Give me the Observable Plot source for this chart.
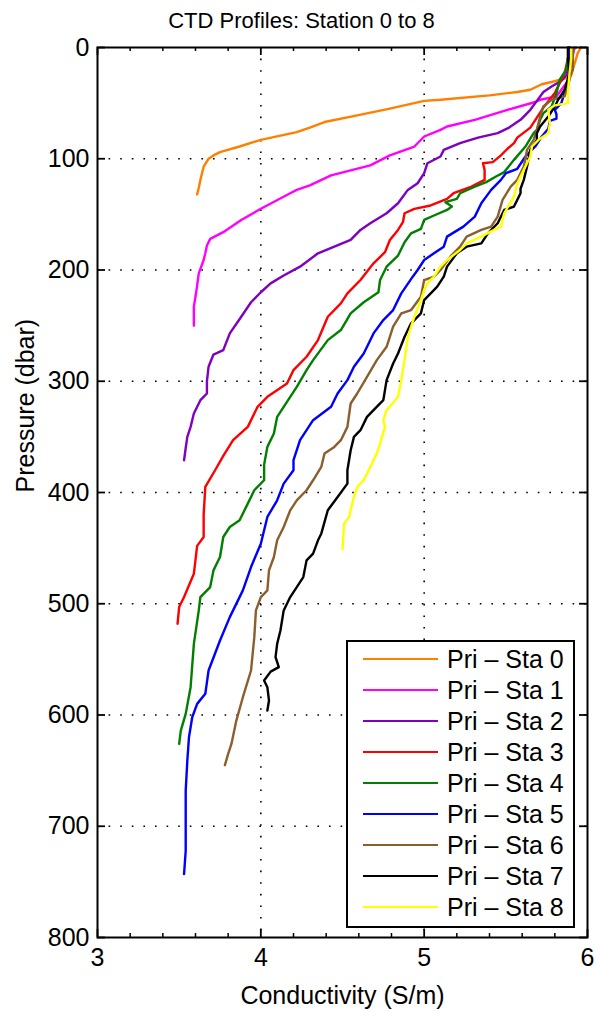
<!DOCTYPE html>
<html>
<head>
<meta charset="utf-8">
<script src="https://cdn.jsdelivr.net/npm/d3@7"></script>
<script src="https://cdn.jsdelivr.net/npm/@observablehq/plot@0.6"></script>
<style>
html, body { margin: 0; padding: 0; background: #fff; }
#wrap { position: relative; width: 595px; height: 1012px; font-family: "Liberation Sans", Arial, sans-serif; }
#legend { position: absolute; left: 0; top: 0; pointer-events: none; }
</style>
</head>
<body>
<div id="wrap"></div>
<script>
// ---------- data ----------
const title = "CTD Profiles: Station 0 to 8";
const xLabel = "Conductivity (S/m)";
const yLabel = "Pressure (dbar)";
const stations = ["Pri – Sta 0","Pri – Sta 1","Pri – Sta 2","Pri – Sta 3","Pri – Sta 4","Pri – Sta 5","Pri – Sta 6","Pri – Sta 7","Pri – Sta 8"];
const colors = ["#FF7F00","#FF00FF","#7F00BF","#FF0000","#007F00","#0000FF","#8B5E2E","#000000","#FFFF00"];
const xTicks = [3, 4, 5, 6];
const xMinorTicks = [3.2,3.4,3.6,3.8,4.2,4.4,4.6,4.8,5.2,5.4,5.6,5.8];
const yTicks = [0,100,200,300,400,500,600,700,800];
const xGrid = [4, 5];
const yGrid = [100,200,300,400,500,600,700];

// [pressure (dbar), conductivity (S/m)]
const sta0 = [[0,5.96],[5,5.94],[15,5.92],[25,5.90],[28,5.86],[31,5.78],[33,5.72],[38,5.65],[40,5.57],[43,5.40],[47,5.10],[48,5.0],[55,4.79],[61,4.59],[67,4.39],[72,4.30],[76,4.22],[83,4.0],[89,3.87],[94,3.75],[97,3.71],[100,3.68],[107,3.65],[113,3.64],[119,3.63],[126,3.62],[132,3.61]];
const sta1 = [[0,5.92],[15,5.90],[30,5.88],[38,5.84],[44,5.81],[47,5.71],[49,5.68],[56,5.51],[65,5.31],[71,5.14],[74,5.10],[80,5.0],[89,4.94],[97,4.79],[106,4.67],[115,4.43],[124,4.30],[128,4.22],[131,4.18],[145,4.0],[155,3.88],[166,3.77],[172,3.69],[178,3.67],[185,3.66],[191,3.65],[203,3.62],[214,3.61],[224,3.60],[233,3.59],[250,3.59]];
const sta2 = [[0,5.90],[15,5.89],[25,5.87],[30,5.84],[35,5.78],[40,5.73],[48,5.69],[56,5.65],[65,5.59],[72,5.52],[77,5.45],[81,5.33],[86,5.22],[92,5.12],[98,5.10],[104,5.02],[113,5.0],[122,4.96],[128,4.90],[140,4.84],[149,4.77],[158,4.67],[164,4.61],[173,4.55],[179,4.45],[185,4.35],[197,4.24],[205,4.14],[212,4.06],[220,4.0],[229,3.94],[242,3.88],[257,3.81],[272,3.77],[276,3.71],[287,3.68],[300,3.67],[311,3.67],[317,3.63],[329,3.59],[341,3.57],[350,3.55],[360,3.54],[371,3.53]];
const sta3 = [[0,5.89],[10,5.88],[23,5.86],[32,5.83],[41,5.80],[54,5.73],[63,5.69],[72,5.65],[81,5.57],[86,5.55],[91,5.51],[97,5.47],[103,5.42],[104,5.36],[110,5.37],[119,5.37],[125,5.29],[131,5.18],[136,5.14],[142,5.04],[145,4.94],[149,4.88],[157,4.87],[164,4.84],[173,4.79],[184,4.76],[194,4.69],[209,4.61],[221,4.53],[230,4.49],[242,4.41],[263,4.35],[278,4.28],[290,4.20],[302,4.16],[314,4.04],[323,3.98],[341,3.92],[353,3.83],[367,3.77],[380,3.72],[395,3.66],[420,3.65],[440,3.65],[448,3.61],[473,3.59],[494,3.53],[503,3.50],[518,3.49]];
const sta4 = [[0,5.89],[10,5.88],[20,5.87],[29,5.83],[41,5.81],[53,5.78],[59,5.73],[65,5.71],[74,5.69],[77,5.67],[89,5.62],[101,5.55],[112,5.49],[116,5.44],[121,5.38],[125,5.31],[131,5.22],[136,5.20],[139,5.13],[143,5.17],[146,5.14],[151,5.06],[155,5.0],[163,4.98],[167,4.92],[175,4.88],[187,4.84],[197,4.77],[209,4.73],[220,4.72],[229,4.63],[239,4.55],[254,4.49],[263,4.41],[281,4.32],[290,4.28],[305,4.22],[323,4.14],[332,4.10],[347,4.08],[359,4.04],[375,4.02],[389,4.02],[398,3.96],[410,3.92],[425,3.87],[431,3.81],[440,3.77],[458,3.75],[470,3.71],[485,3.69],[494,3.63],[506,3.62],[536,3.59],[575,3.57],[599,3.54],[614,3.51],[626,3.50]];
const sta5 = [[0,5.89],[10,5.89],[20,5.89],[32,5.88],[45,5.85],[50,5.84],[56,5.80],[60,5.81],[64,5.81],[66,5.77],[73,5.76],[80,5.72],[89,5.68],[98,5.62],[109,5.57],[113,5.50],[119,5.47],[128,5.41],[140,5.35],[152,5.31],[161,5.24],[170,5.14],[179,5.12],[185,5.06],[191,5.0],[200,4.96],[206,4.93],[221,4.86],[236,4.81],[245,4.75],[257,4.69],[275,4.63],[287,4.57],[299,4.53],[311,4.47],[323,4.43],[335,4.32],[353,4.24],[371,4.20],[380,4.20],[392,4.14],[407,4.10],[422,4.04],[446,4.0],[467,3.94],[488,3.89],[512,3.81],[533,3.75],[560,3.68],[581,3.66],[590,3.61],[602,3.58],[620,3.56],[641,3.55],[668,3.54],[698,3.54],[722,3.54],[743,3.53]];
const sta6 = [[0,5.93],[2,5.91],[20,5.91],[23,5.90],[35,5.88],[44,5.86],[47,5.78],[53,5.73],[62,5.71],[74,5.69],[83,5.67],[92,5.63],[107,5.61],[119,5.57],[125,5.53],[137,5.48],[152,5.45],[161,5.41],[164,5.35],[170,5.26],[179,5.22],[188,5.16],[200,5.10],[206,5.06],[209,5.0],[224,4.98],[236,4.92],[239,4.86],[251,4.81],[269,4.77],[281,4.71],[296,4.65],[311,4.59],[320,4.55],[341,4.53],[353,4.49],[359,4.45],[365,4.39],[377,4.37],[389,4.32],[398,4.28],[407,4.22],[416,4.18],[431,4.14],[443,4.10],[458,4.08],[470,4.05],[488,4.04],[494,4.0],[506,3.97],[530,3.96],[560,3.94],[584,3.89],[605,3.85],[626,3.82],[635,3.80],[645,3.78]];
const sta7 = [[0,5.88],[10,5.88],[23,5.89],[38,5.86],[47,5.82],[53,5.80],[62,5.76],[71,5.71],[77,5.69],[83,5.69],[92,5.65],[107,5.63],[119,5.61],[127,5.59],[131,5.59],[143,5.55],[146,5.49],[158,5.45],[167,5.39],[176,5.35],[179,5.26],[185,5.20],[197,5.14],[206,5.12],[215,5.08],[221,5.04],[227,5.0],[239,4.98],[248,4.92],[260,4.88],[275,4.84],[284,4.81],[299,4.77],[317,4.75],[326,4.69],[332,4.65],[344,4.61],[350,4.57],[362,4.55],[380,4.53],[392,4.53],[404,4.47],[416,4.41],[437,4.37],[443,4.35],[455,4.32],[461,4.28],[476,4.26],[485,4.22],[494,4.18],[506,4.14],[524,4.12],[536,4.10],[548,4.09],[557,4.11],[561,4.06],[569,4.02],[575,4.04],[587,4.05],[596,4.04]];
const sta8 = [[0,5.90],[10,5.90],[23,5.89],[41,5.88],[50,5.88],[52,5.80],[56,5.76],[68,5.77],[77,5.76],[83,5.70],[89,5.66],[98,5.65],[110,5.61],[122,5.57],[134,5.55],[149,5.49],[161,5.47],[166,5.40],[170,5.35],[176,5.26],[182,5.22],[191,5.14],[197,5.10],[206,5.06],[212,5.02],[218,5.0],[227,4.98],[242,4.94],[260,4.90],[281,4.88],[299,4.86],[314,4.84],[326,4.77],[335,4.75],[341,4.76],[356,4.73],[365,4.71],[377,4.67],[389,4.63],[395,4.59],[404,4.57],[416,4.55],[422,4.54],[428,4.51],[451,4.50]];

const profiles = [sta0, sta1, sta2, sta3, sta4, sta5, sta6, sta7, sta8];
const rows = profiles.flatMap((pts, i) => pts.map(([p, c]) => ({station: stations[i], p, c})));

// ---------- layout ----------
const W = 595, H = 1012, mL = 97, mR = 8, mT = 47, mB = 75;
const fw = W - mL - mR, fh = H - mT - mB;
const font = "Liberation Sans, Arial, Helvetica, sans-serif";

const chart = Plot.plot({
  width: W, height: H,
  marginLeft: mL, marginRight: mR, marginTop: mT, marginBottom: mB,
  style: {fontFamily: font, background: "white", color: "black", overflow: "visible"},
  x: {domain: [3, 6]},
  y: {domain: [0, 800], reverse: true},
  color: {domain: stations, range: colors},
  marks: [
    Plot.gridX(xGrid, {stroke: "black", strokeOpacity: 1, strokeWidth: 1.6, strokeDasharray: "1.6,10"}),
    Plot.gridY(yGrid, {stroke: "black", strokeOpacity: 1, strokeWidth: 1.6, strokeDasharray: "1.6,10"}),
    Plot.line(rows, {x: "c", y: "p", z: "station", stroke: "station", strokeWidth: 2.4}),
    // inner ticks (MATLAB style, on all four sides)
    Plot.tickX(xMinorTicks, {x: d => d, insetTop: fh - 4, stroke: "black", strokeWidth: 1.5}),
    Plot.tickX(xMinorTicks, {x: d => d, insetBottom: fh - 4, stroke: "black", strokeWidth: 1.5}),
    Plot.tickX(xTicks, {x: d => d, insetTop: fh - 8, stroke: "black", strokeWidth: 1.8}),
    Plot.tickX(xTicks, {x: d => d, insetBottom: fh - 8, stroke: "black", strokeWidth: 1.8}),
    Plot.tickY(yTicks, {y: d => d, insetRight: fw - 8, stroke: "black", strokeWidth: 1.8}),
    Plot.tickY(yTicks, {y: d => d, insetLeft: fw - 8, stroke: "black", strokeWidth: 1.8}),
    Plot.frame({stroke: "black", strokeWidth: 2}),
    Plot.axisX({ticks: xTicks, tickFormat: d3.format("d"), tickSize: 0, tickPadding: 11, fontSize: 25, label: null}),
    Plot.axisY({ticks: yTicks, tickFormat: d3.format("d"), tickSize: 0, tickPadding: 8, fontSize: 25, label: null}),
    Plot.text([title], {frameAnchor: "top", lineAnchor: "middle", dx: -41, dy: -27, fontSize: 22}),
    Plot.text([xLabel], {frameAnchor: "bottom", lineAnchor: "middle", dy: 58, fontSize: 25}),
    Plot.text([yLabel], {frameAnchor: "left", lineAnchor: "middle", dx: -72, rotate: -90, fontSize: 25})
  ]
});
document.getElementById("wrap").appendChild(chart);

// ---------- legend (MATLAB-style box, lower right) ----------
const lg = {x: 347, y: 641, w: 227, h: 286, row0: 18, rowH: 31, lx1: 16, lx2: 91, tx: 100};
const svg = d3.select("#wrap").append("svg")
  .attr("id", "legend").attr("width", W).attr("height", H)
  .style("font-family", font);
svg.append("rect").attr("x", lg.x).attr("y", lg.y).attr("width", lg.w).attr("height", lg.h)
  .attr("fill", "white").attr("stroke", "black").attr("stroke-width", 2);
const item = svg.selectAll("g.item").data(stations).join("g")
  .attr("transform", (d, i) => `translate(${lg.x},${lg.y + lg.row0 + i * lg.rowH})`);
item.append("line").attr("x1", lg.lx1).attr("x2", lg.lx2).attr("y1", 0).attr("y2", 0)
  .attr("stroke", (d, i) => colors[i]).attr("stroke-width", 2.2);
item.append("text").attr("x", lg.tx).attr("y", 0).attr("dy", "0.35em")
  .attr("font-size", 25).attr("fill", "black").text(d => d);
</script>
</body>
</html>
